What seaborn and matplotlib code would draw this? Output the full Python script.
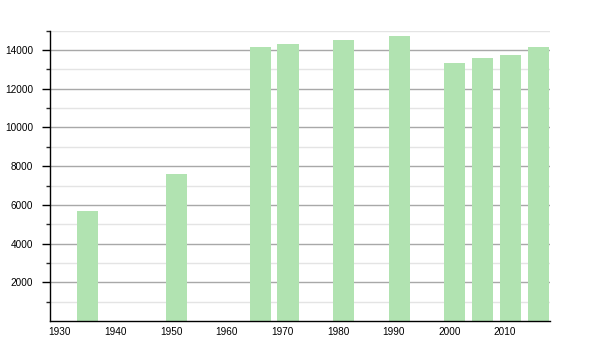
import matplotlib
matplotlib.use("Agg")
import matplotlib.pyplot as plt
from matplotlib.ticker import FixedLocator
import seaborn as sns
import pandas as pd

years = [1935, 1951, 1966, 1971, 1981, 1991, 2001, 2006, 2011, 2016]
population = [5690, 7570, 14155, 14310, 14517, 14724, 13326, 13585, 13757, 14170]
x_ticks = [1930, 1940, 1950, 1960, 1970, 1980, 1990, 2000, 2010]
y_ticks = [2000, 4000, 6000, 8000, 10000, 12000, 14000]
y_minor = [1000, 3000, 5000, 7000, 9000, 11000, 13000, 15000]

sns.set_style("white")
plt.rcParams['font.family'] = ['Liberation Sans', 'DejaVu Sans']

df = pd.DataFrame({"year": years, "pop": population})

fig = plt.figure(figsize=(6, 3.5), dpi=100)
ax = fig.add_axes([50/600, 1-321/350, 500/600, (321-30.7)/350])

sns.barplot(data=df, x="year", y="pop", native_scale=True, width=0.76,
            color="#b1e3b1", saturation=1, linewidth=0, ax=ax, zorder=3)

ax.set_xlim(1928.2, 2018.1)
ax.set_ylim(0, 15000)
ax.xaxis.set_major_locator(FixedLocator(x_ticks))
ax.set_xticklabels([str(v) for v in x_ticks])
ax.yaxis.set_major_locator(FixedLocator(y_ticks))
ax.set_yticklabels([str(v) for v in y_ticks])
ax.yaxis.set_minor_locator(FixedLocator(y_minor))

ax.grid(False)
for v in y_ticks:
    ax.axhline(v, color="#a8a8a8", lw=1.0, zorder=1)
for v in y_minor:
    ax.axhline(v, color="#e4e4e4", lw=1.0, zorder=1)

ax.set_xlabel("")
ax.set_ylabel("")
for s in ["top", "right"]:
    ax.spines[s].set_visible(False)
for s in ["left", "bottom"]:
    ax.spines[s].set_color("black")
    ax.spines[s].set_linewidth(1.0)
    ax.spines[s].set_zorder(5)

ax.tick_params(axis="x", length=0, pad=4, labelsize=7.2, colors="black")
ax.tick_params(axis="y", which="major", length=6, width=1, pad=6, labelsize=7.2, colors="black", left=True)
ax.tick_params(axis="y", which="minor", length=3, width=1, left=True)

fig.savefig("out.png", dpi=100)
